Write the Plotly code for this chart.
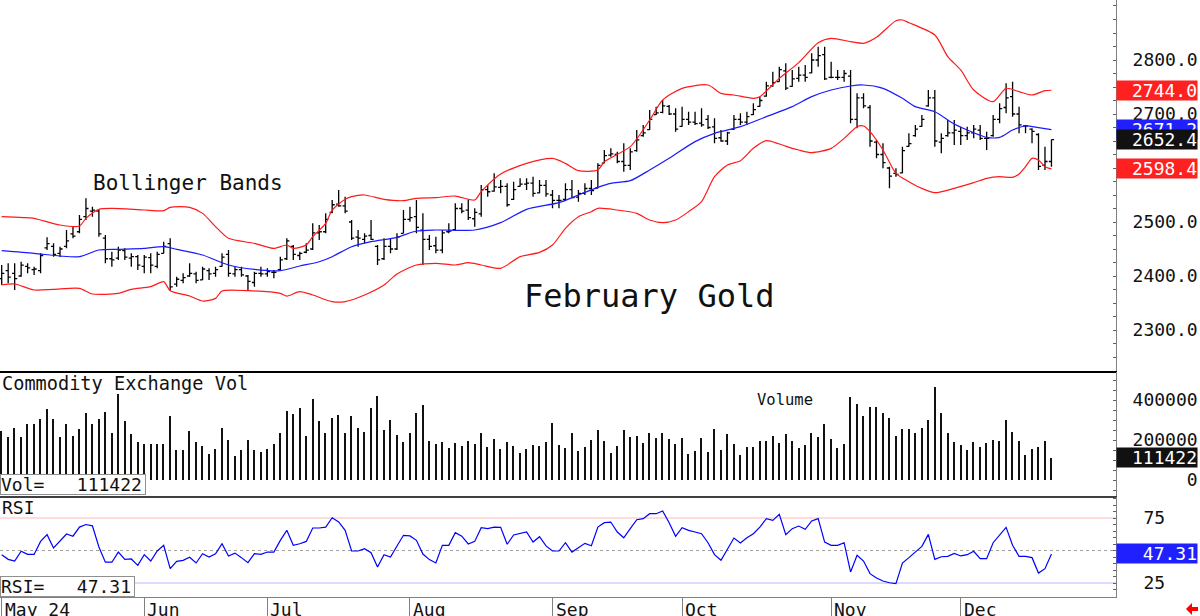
import plotly.graph_objects as go

# ---------------- data ----------------
month_idx = [0, 22, 41, 63, 85, 105, 128, 148]
month_lbl = ["May 24", "Jun", "Jul", "Aug", "Sep", "Oct", "Nov", "Dec"]

opens = [2395, 2410, 2405, 2400, 2418, 2412, 2410, 2452, 2455, 2442,
         2455, 2478, 2482, 2510, 2520, 2520, 2470, 2432, 2433, 2447,
         2433, 2436, 2418, 2434, 2418, 2442, 2460, 2385, 2392, 2400,
         2404, 2393, 2410, 2405, 2418, 2440, 2404, 2412, 2400, 2388,
         2405, 2404, 2407, 2412, 2432, 2455, 2438, 2444, 2450, 2480,
         2482, 2518, 2533, 2530, 2500, 2472, 2468, 2475, 2455, 2432,
         2455, 2450, 2479, 2505, 2510, 2485, 2468, 2456, 2448, 2482,
         2486, 2525, 2522, 2506, 2515, 2560, 2557, 2564, 2566, 2542,
         2566, 2570, 2572, 2554, 2568, 2550, 2540, 2542, 2560, 2546,
         2553, 2562, 2563, 2609, 2624, 2625, 2612, 2605, 2632, 2660,
         2671, 2699, 2703, 2714, 2700, 2677, 2690, 2685, 2683, 2690,
         2676, 2656, 2650, 2672, 2690, 2685, 2699, 2714, 2733, 2752,
         2760, 2780, 2751, 2766, 2772, 2776, 2800, 2810, 2768, 2768,
         2768, 2770, 2690, 2730, 2712, 2648, 2625, 2600, 2590, 2591,
         2640, 2660, 2677, 2715, 2730, 2648, 2660, 2665, 2668, 2660,
         2665, 2670, 2655, 2660, 2690, 2712, 2732, 2700, 2678, 2672,
         2662, 2605, 2612]
highs = [2420.4, 2423.5, 2423.5, 2426.5, 2423.5, 2417.3, 2442.0, 2471.6, 2460.5, 2454.3,
         2485.2, 2491.4, 2513.0, 2543.8, 2528.4, 2522.2, 2475.9, 2445.1, 2454.3, 2451.2,
         2442.0, 2438.9, 2438.9, 2442.0, 2445.1, 2463.6, 2469.8, 2398.8, 2405.0, 2423.5,
         2408.0, 2417.3, 2414.2, 2417.3, 2442.0, 2448.1, 2417.3, 2417.3, 2401.9, 2408.0,
         2417.3, 2414.2, 2411.1, 2435.8, 2469.8, 2457.4, 2445.1, 2460.5, 2497.5, 2494.4,
         2516.0, 2540.7, 2559.3, 2546.9, 2503.7, 2485.2, 2479.0, 2503.7, 2457.4, 2469.8,
         2469.8, 2479.0, 2522.2, 2528.4, 2540.7, 2516.0, 2475.9, 2472.8, 2485.2, 2497.5,
         2534.6, 2534.6, 2540.7, 2525.3, 2568.5, 2568.5, 2590.1, 2577.8, 2571.6, 2574.7,
         2580.9, 2580.9, 2584.0, 2577.8, 2577.8, 2559.3, 2550.0, 2571.6, 2577.8, 2559.3,
         2571.6, 2577.8, 2608.6, 2633.3, 2636.4, 2630.2, 2645.7, 2636.4, 2670.4, 2679.6,
         2707.4, 2713.6, 2725.9, 2716.7, 2710.5, 2713.6, 2704.3, 2704.3, 2710.5, 2698.1,
         2692.0, 2670.4, 2667.3, 2698.1, 2701.2, 2704.3, 2719.8, 2732.1, 2759.9, 2778.4,
         2787.7, 2793.8, 2781.5, 2787.7, 2790.7, 2812.3, 2824.7, 2824.7, 2796.9, 2781.5,
         2781.5, 2781.5, 2738.3, 2738.3, 2716.7, 2651.9, 2645.7, 2602.5, 2599.4, 2639.5,
         2664.2, 2679.6, 2698.1, 2744.4, 2744.4, 2664.2, 2688.9, 2688.9, 2676.5, 2676.5,
         2679.6, 2679.6, 2667.3, 2698.1, 2719.8, 2756.8, 2759.9, 2713.6, 2679.6, 2673.5,
         2664.2, 2639.5, 2653.0]
lows = [2383.3, 2386.4, 2374.1, 2398.8, 2405.0, 2401.9, 2405.0, 2448.1, 2435.8, 2435.8,
        2451.2, 2469.8, 2479.0, 2503.7, 2509.9, 2472.8, 2423.5, 2417.3, 2429.6, 2429.6,
        2417.3, 2411.1, 2405.0, 2405.0, 2414.2, 2442.0, 2372.8, 2380.2, 2386.4, 2398.8,
        2386.4, 2392.6, 2392.6, 2398.8, 2417.3, 2398.8, 2398.8, 2398.8, 2374.1, 2380.2,
        2398.8, 2398.8, 2395.7, 2411.1, 2429.6, 2429.6, 2429.6, 2442.0, 2448.1, 2466.7,
        2479.0, 2516.0, 2528.4, 2516.0, 2466.7, 2454.3, 2460.5, 2466.7, 2420.4, 2429.6,
        2442.0, 2448.1, 2479.0, 2500.6, 2479.0, 2420.4, 2448.1, 2442.0, 2442.0, 2479.0,
        2485.2, 2516.0, 2503.7, 2491.4, 2509.9, 2546.9, 2556.2, 2553.1, 2528.4, 2540.7,
        2565.4, 2559.3, 2546.9, 2553.1, 2546.9, 2525.3, 2525.3, 2540.7, 2543.8, 2537.7,
        2550.0, 2550.0, 2562.3, 2608.6, 2621.0, 2608.6, 2593.2, 2596.3, 2630.2, 2658.0,
        2670.4, 2698.1, 2701.2, 2698.1, 2667.3, 2676.5, 2679.6, 2679.6, 2676.5, 2672.0,
        2645.7, 2648.8, 2642.6, 2670.4, 2679.6, 2679.6, 2698.1, 2713.6, 2732.1, 2750.6,
        2759.9, 2744.4, 2750.6, 2759.9, 2759.9, 2775.3, 2787.7, 2763.0, 2766.0, 2763.0,
        2759.9, 2682.7, 2673.5, 2710.5, 2639.5, 2617.9, 2599.4, 2562.3, 2584.0, 2590.1,
        2639.5, 2658.0, 2676.5, 2713.6, 2639.5, 2627.2, 2658.0, 2642.6, 2642.6, 2651.9,
        2654.9, 2651.9, 2633.3, 2658.0, 2682.7, 2701.2, 2695.1, 2664.2, 2664.2, 2645.7,
        2596.3, 2596.3, 2602.5]
closes = [2405, 2398, 2395, 2420, 2415, 2413, 2438, 2460, 2440, 2450,
          2465, 2474, 2505, 2525, 2522, 2478, 2432, 2430, 2448, 2435,
          2436, 2420, 2435, 2420, 2440, 2455, 2380, 2394, 2397, 2405,
          2392, 2413, 2404, 2412, 2435, 2405, 2412, 2402, 2390, 2405,
          2404, 2408, 2407, 2430, 2465, 2440, 2442, 2448, 2480, 2482,
          2505, 2532, 2530, 2520, 2470, 2470, 2474, 2468, 2430, 2455,
          2450, 2472, 2505, 2508, 2490, 2468, 2455, 2448, 2480, 2483,
          2525, 2520, 2508, 2518, 2560, 2556, 2565, 2566, 2532, 2560,
          2570, 2572, 2553, 2568, 2552, 2540, 2540, 2560, 2545, 2553,
          2562, 2558, 2605, 2623, 2626, 2612, 2605, 2630, 2652, 2665,
          2690, 2702, 2715, 2700, 2672, 2690, 2685, 2682, 2680, 2675,
          2655, 2650, 2665, 2690, 2685, 2695, 2708, 2725, 2752, 2758,
          2782, 2748, 2765, 2772, 2768, 2800, 2808, 2765, 2768, 2768,
          2775, 2690, 2730, 2715, 2650, 2625, 2610, 2585, 2588, 2632,
          2645, 2672, 2690, 2730, 2650, 2655, 2665, 2670, 2660, 2665,
          2672, 2655, 2655, 2690, 2710, 2730, 2700, 2680, 2678, 2668,
          2603, 2612, 2652.4]

volume = [246000, 217500, 262500, 217500, 282500, 282500, 304000, 356000, 304000, 217500,
          282500, 222500, 254000, 336000, 279000, 307500, 342500, 234000, 431000, 294000,
          231000, 189000, 179000, 179000, 179000, 179000, 322500, 149000, 152500, 246000,
          189000, 169000, 129000, 157500, 262500, 202500, 121000, 152500, 202500, 152500,
          142500, 154000, 182500, 234000, 347500, 331000, 361000, 222500, 407500, 294000,
          234000, 311000, 327500, 234000, 319000, 262500, 242500, 362500, 422500, 249000,
          301000, 226000, 192500, 236000, 336000, 376000, 196000, 179000, 189000, 161000,
          184000, 169000, 196000, 182500, 237500, 164000, 206000, 157500, 189000, 172500,
          137500, 156000, 176000, 172500, 189000, 287500, 177500, 161000, 237500, 147500,
          164000, 201000, 249000, 196000, 137500, 169000, 249000, 214000, 222500, 186000,
          237500, 212500, 237500, 206000, 179000, 212500, 132500, 146000, 212500, 142500,
          254000, 152500, 231000, 182500, 126000, 167500, 167500, 197500, 194000, 222500,
          187500, 231000, 197500, 161000, 174000, 234000, 214000, 279000, 206000, 161000,
          182500, 417500, 382500, 319000, 364000, 364000, 337500, 311000, 222500, 254000,
          257500, 234000, 259000, 302500, 467500, 334000, 237500, 192500, 176000, 149000,
          189000, 164000, 186000, 201000, 197500, 302500, 242500, 194000, 124000, 157500,
          164000, 197500, 111422]

rsi = [46.8, 43.2, 41.9, 49.4, 47.0, 47.0, 57.0, 62.2, 52.0, 57.0,
       62.7, 61.0, 68.0, 70.0, 69.0, 52.7, 41.0, 41.0, 48.8, 43.2,
       43.5, 38.6, 46.8, 41.9, 49.6, 54.0, 36.0, 41.7, 42.4, 44.8,
       40.4, 47.5, 45.0, 47.5, 55.2, 45.8, 48.0, 44.5, 40.6, 47.5,
       47.0, 48.8, 48.8, 57.8, 65.5, 54.0, 55.2, 57.0, 67.3, 67.3,
       68.0, 75.2, 72.0, 65.5, 49.6, 49.6, 51.4, 48.3, 37.3, 46.8,
       45.0, 53.5, 61.7, 61.2, 57.8, 47.3, 43.0, 40.4, 54.0, 54.0,
       63.7, 61.0, 55.0, 57.0, 67.5, 66.8, 68.0, 67.8, 54.8, 61.9,
       63.2, 64.2, 56.5, 60.6, 53.5, 49.6, 49.6, 56.0, 48.8, 52.0,
       55.5, 53.7, 68.0, 71.4, 71.9, 64.2, 59.8, 66.8, 73.7, 74.5,
       78.3, 78.3, 80.4, 71.4, 60.9, 67.5, 65.5, 64.2, 62.9, 56.0,
       46.8, 42.5, 51.4, 59.6, 55.8, 59.8, 62.9, 68.0, 74.5, 73.2,
       77.8, 62.2, 66.8, 68.8, 66.3, 72.7, 74.5, 56.5, 54.0, 54.0,
       56.0, 33.5, 46.3, 41.9, 32.2, 28.8, 26.5, 25.2, 24.5, 40.4,
       44.5, 48.8, 53.2, 62.4, 43.2, 45.2, 45.5, 47.8, 45.8, 46.8,
       49.4, 43.7, 43.7, 56.0, 62.2, 67.8, 54.0, 45.5, 45.5, 44.5,
       32.7, 36.0, 47.31]

bb_up_i = [0, 5, 6, 9, 12, 13, 15, 17, 22, 25, 26, 29, 31, 33, 35, 39, 42, 44, 45, 47,
           48, 50, 51, 53, 54, 56, 59, 62, 64, 67, 70, 73, 74, 77, 81, 85, 87, 89, 92, 93,
           97, 100, 102, 105, 109, 111, 113, 116, 117, 120, 123, 126, 128, 131, 133, 135,
           138, 139, 140, 144, 146, 148, 150, 153, 155, 157, 159, 161, 162]
bb_up = [2509.9, 2506.8, 2503.7, 2494.4, 2492.6, 2506.8, 2523.5, 2525.3, 2522.2, 2521.0,
         2527.2, 2527.2, 2516.0, 2491.4, 2469.8, 2460.5, 2451.2, 2457.4, 2451.2, 2457.4,
         2472.8, 2497.5, 2522.2, 2542.0, 2546.9, 2550.0, 2542.0, 2539.5, 2543.8, 2545.1,
         2548.1, 2540.7, 2556.2, 2588.9, 2608.6, 2617.9, 2608.6, 2595.1, 2596.3, 2611.7,
         2639.5, 2688.9, 2725.9, 2747.5, 2753.7, 2738.3, 2735.2, 2729.0, 2732.1, 2766.0,
         2795.1, 2832.1, 2840.1, 2834.0, 2830.9, 2842.0, 2872.8, 2874.1, 2869.1, 2846.3,
         2806.2, 2781.5, 2744.4, 2722.8, 2747.5, 2741.4, 2735.2, 2743.2, 2744.0]

bb_lo_i = [0, 2, 5, 8, 12, 14, 18, 20, 23, 25, 26, 29, 31, 33, 34, 38, 43, 44, 46, 48,
           51, 53, 56, 59, 61, 64, 67, 70, 72, 74, 77, 80, 83, 85, 87, 89, 91, 92, 95, 98,
           100, 102, 104, 106, 108, 110, 112, 114, 116, 118, 120, 122, 123, 125, 128, 130,
           132, 133, 134, 136, 138, 140, 142, 144, 147, 150, 152, 154, 156, 157, 158, 159,
           160, 161, 162]
bb_lo = [2383.3, 2385.2, 2374.1, 2375.3, 2377.2, 2366.7, 2367.9, 2375.3, 2380.2, 2389.5,
         2372.8, 2362.9, 2353.7, 2358.6, 2372.2, 2372.8, 2367.9, 2362.9, 2371.0, 2364.8,
         2352.5, 2352.5, 2364.8, 2383.3, 2403.7, 2420.4, 2423.5, 2420.4, 2424.7, 2420.4,
         2414.2, 2435.8, 2443.8, 2457.4, 2488.3, 2509.9, 2519.1, 2525.3, 2522.2, 2516.0,
         2503.7, 2498.8, 2503.7, 2519.1, 2537.7, 2584.0, 2605.6, 2613.6, 2636.4, 2650.6,
         2644.4, 2636.4, 2633.3, 2628.4, 2636.4, 2654.9, 2676.5, 2677.8, 2667.3, 2633.3,
         2590.1, 2574.7, 2562.3, 2554.3, 2562.3, 2572.8, 2580.9, 2584.0, 2582.7, 2588.9,
         2602.5, 2617.9, 2614.8, 2602.5, 2598.4]

bb_mid_i = [0, 5, 9, 12, 15, 18, 22, 25, 27, 31, 35, 39, 43, 46, 49, 51, 54, 57, 61, 64,
            67, 73, 77, 81, 86, 89, 92, 94, 97, 100, 103, 107, 110, 114, 118, 122, 125,
            128, 131, 133, 136, 139, 141, 144, 147, 150, 152, 154, 156, 158, 160, 162]
bb_mid = [2446.9, 2442.0, 2437.0, 2435.8, 2448.1, 2449.4, 2451.2, 2454.3, 2449.4, 2438.9,
          2420.4, 2412.3, 2409.9, 2418.5, 2426.5, 2435.8, 2454.3, 2463.6, 2471.6, 2483.3,
          2485.2, 2485.2, 2498.8, 2523.5, 2535.8, 2550.0, 2564.2, 2571.6, 2576.5, 2596.3,
          2617.9, 2648.8, 2664.2, 2676.5, 2695.1, 2713.6, 2732.1, 2744.4, 2751.9, 2753.7,
          2747.5, 2729.0, 2713.6, 2704.3, 2681.5, 2665.4, 2656.8, 2656.8, 2670.4, 2677.8,
          2674.7, 2671.2]

assert len(opens) == len(highs) == len(lows) == len(closes) == len(volume) == len(rsi)
idx = list(range(len(closes)))

# ---------------- layout geometry (pixels) ----------------
W, H = 1200, 616
PLOT_R = 1116          # right edge of the plotting area (axis line)
def py(y):  # pixel row -> paper y
    return (H - y) / H
def px(x):  # pixel column -> paper x
    return x / PLOT_R

XR = [-0.262, 171.96]
MONO = "DejaVu Sans Mono"
TXT = "#111111"
AX = "#808080"

fig = go.Figure()

# price bars
fig.add_trace(go.Ohlc(
    x=idx, open=opens, high=highs, low=lows, close=closes,
    xaxis="x", yaxis="y", tickwidth=0.4,
    increasing=dict(line=dict(color="#000000", width=1.3)),
    decreasing=dict(line=dict(color="#000000", width=1.3)),
    hoverinfo="skip", showlegend=False))

# Bollinger bands
for xs, ys, col in [(bb_up_i, bb_up, "#ff1a1a"), (bb_lo_i, bb_lo, "#ff1a1a"),
                    (bb_mid_i, bb_mid, "#1a1aff")]:
    fig.add_trace(go.Scatter(x=xs, y=ys, mode="lines", xaxis="x", yaxis="y",
                             line=dict(color=col, width=1.2, shape="spline", smoothing=0.7),
                             hoverinfo="skip", showlegend=False))

# volume
fig.add_trace(go.Bar(x=idx, y=volume, xaxis="x2", yaxis="y2", width=0.22,
                     marker=dict(color="#111111", line=dict(width=0)),
                     hoverinfo="skip", showlegend=False))

# RSI
fig.add_trace(go.Scatter(x=idx, y=rsi, mode="lines", xaxis="x3", yaxis="y3",
                         line=dict(color="#0000ff", width=1.2),
                         hoverinfo="skip", showlegend=False))

common_x = dict(range=XR, showgrid=False, zeroline=False, showticklabels=False,
                fixedrange=True, rangeslider=dict(visible=False), automargin=False)
common_y = dict(side="right", showgrid=False, zeroline=False, showline=True,
                linecolor=AX, linewidth=1, ticks="inside", ticklen=3,
                tickcolor="#606060", ticklabelstandoff=12, automargin=False,
                tickfont=dict(family=MONO, size=18, color=TXT))

fig.update_layout(
    width=W, height=H,
    margin=dict(l=0, r=W - PLOT_R, t=0, b=0, pad=0),
    paper_bgcolor="white", plot_bgcolor="white",
    showlegend=False, hovermode=False,
    font=dict(family=MONO, size=18, color=TXT),
    bargap=0,
    xaxis=dict(domain=[0, 1], anchor="y", showline=True, linecolor="#000000",
               linewidth=2, ticks="", **common_x),
    xaxis2=dict(domain=[0, 1], anchor="y2", showline=True, linecolor="#404040",
                linewidth=2, ticks="", **common_x),
    xaxis3=dict(domain=[0, 1], anchor="y3", showline=True, linecolor=AX,
                linewidth=1, tickmode="array", tickvals=month_idx, ticks="outside",
                ticklen=19, tickcolor=AX, tickwidth=1, **common_x),
    yaxis=dict(domain=[py(371), 1], anchor="x", range=[2224.1, 2911.1],
               tickmode="array", tickvals=[2300, 2400, 2500, 2600, 2700, 2800],
               ticktext=["2300.0", "2400.0", "2500.0", "2600.0", "2700.0", "2800.0"],
               minor=dict(dtick=25, ticks="inside", ticklen=3, tickcolor="#606060"),
               **common_y),
    yaxis2=dict(domain=[py(496), py(372)], anchor="x2", range=[-80000, 540000],
                tickmode="array", tickvals=[0, 200000, 400000],
                ticktext=["\u00a0" * 5 + "0", "200000", "400000"],
                minor=dict(dtick=50000, ticks="inside", ticklen=3, tickcolor="#606060"),
                **common_y),
    yaxis3=dict(domain=[py(597), py(497)], anchor="x3", range=[14.23, 91.15],
                tickmode="array", tickvals=[25, 50, 75],
                ticktext=["\u00a025", "\u00a050", "\u00a075"],
                minor=dict(dtick=5, ticks="inside", ticklen=3, tickcolor="#606060"),
                **common_y),
)

# RSI guide lines
for lvl, col, dash in [(75, "#ffb8b8", "solid"), (50, "#a0a0a0", "dot"), (25, "#b8b8ff", "solid")]:
    fig.add_shape(type="line", xref="x3 domain", x0=0, x1=1, yref="y3", y0=lvl, y1=lvl,
                  line=dict(color=col, width=1, dash=dash), layer="below")

ann = []
# panel titles / labels
ann.append(dict(text="Bollinger Bands", x=px(92), y=py(183), font=dict(size=21)))
ann.append(dict(text="February Gold", x=px(523), y=py(296), font=dict(size=32)))
ann.append(dict(text="Commodity Exchange Vol", x=px(1), y=py(383), font=dict(size=18.6)))
ann.append(dict(text="Volume", x=px(756), y=py(400), font=dict(size=15.5)))
ann.append(dict(text="RSI", x=px(1), y=py(507), font=dict(size=18)))
for a in ann:
    a.update(xref="paper", yref="paper", xanchor="left", yanchor="middle",
             showarrow=False, borderpad=0)
    a["font"].update(family=MONO, color=TXT)

# month labels
for mi, ml in zip(month_idx, month_lbl):
    ann.append(dict(text=ml, x=mi, xref="x3", y=py(598), yref="paper",
                    xanchor="left", yanchor="top", xshift=2, showarrow=False,
                    borderpad=0, font=dict(family=MONO, size=18, color=TXT)))

# value boxes on the right scale
boxes = [("y", bb_up[-1], f"{bb_up[-1]:.1f}", "#ff2020"),
         ("y", bb_mid[-1], f"{bb_mid[-1]:.1f}", "#2020ff"),
         ("y", closes[-1], f"{closes[-1]:.1f}", "#111111"),
         ("y", bb_lo[-1], f"{bb_lo[-1]:.1f}", "#ff2020"),
         ("y2", volume[-1], f"{volume[-1]}", "#111111"),
         ("y3", rsi[-1], f"{rsi[-1]:.2f}", "#2020ff")]
for yref, val, txt, col in boxes:
    ann.append(dict(text=txt, x=px(1198), xref="paper", xanchor="right",
                    y=val, yref=yref, yanchor="middle", showarrow=False,
                    bgcolor=col, width=80, height=19, align="right", borderpad=0,
                    font=dict(family=MONO, size=18, color="white")))

# readout boxes at lower-left of the volume and RSI panels
ann.append(dict(text="Vol=" + "\u00a0" * 3 + f"{volume[-1]}", x=0, xref="paper",
                xanchor="left", y=py(495), yref="paper", yanchor="bottom",
                showarrow=False, bgcolor="white", bordercolor="#909090", borderwidth=1,
                borderpad=0, width=144, height=19, align="left",
                font=dict(family=MONO, size=18, color=TXT)))
ann.append(dict(text="RSI=" + "\u00a0" * 3 + f"{rsi[-1]:.2f}", x=0, xref="paper",
                xanchor="left", y=py(597), yref="paper", yanchor="bottom",
                showarrow=False, bgcolor="white", bordercolor="#909090", borderwidth=1,
                borderpad=0, width=133, height=19, align="left",
                font=dict(family=MONO, size=18, color=TXT)))
fig.update_layout(annotations=ann)

# small red arrow at the bottom right
pts = [(1186, 609), (1192, 603), (1192, 607), (1198, 607), (1198, 611), (1192, 611), (1192, 615)]
path = "M " + " L ".join(f"{px(x):.5f},{py(y):.5f}" for x, y in pts) + " Z"
fig.add_shape(type="path", path=path, xref="paper", yref="paper",
              fillcolor="#ff0000", line=dict(width=0))

fig.write_html("out.html")
